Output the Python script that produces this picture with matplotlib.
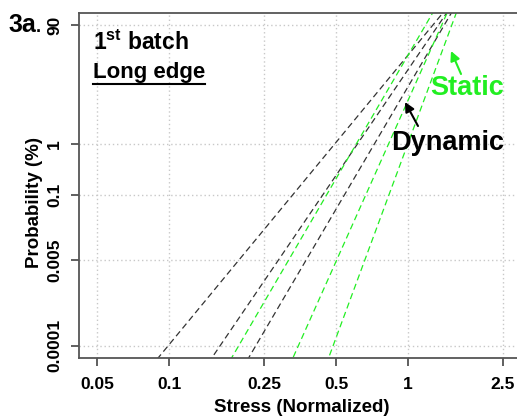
import numpy as np
import matplotlib
matplotlib.use('Agg')
import matplotlib.pyplot as plt
from matplotlib.lines import Line2D

plt.rcParams['font.family'] = ['Liberation Sans', 'DejaVu Sans']
plt.rcParams['font.weight'] = 'bold'
plt.rcParams['mathtext.fontset'] = 'custom'
plt.rcParams['mathtext.rm'] = 'Liberation Sans:bold'
plt.rcParams['mathtext.bf'] = 'Liberation Sans:bold'

# Weibull fit lines (shape, scale)
dyn_shape = [5.74, 6.96, 8.06]
dyn_scale = [1.10, 1.19, 1.28]
sta_shape = [8.13, 10.6, 12.8]
sta_scale = [1.07, 1.28, 1.43]

x_ticks = [0.05, 0.1, 0.25, 0.5, 1, 2.5]
x_labels = ['0.05', '0.1', '0.25', '0.5', '1', '2.5']
p_ticks = [0.000001, 0.00005, 0.001, 0.01, 0.9]   # fraction
p_labels = ['0.0001', '0.005', '0.1', '1', '90']

GREEN = '#22ee22'


def wb(p):
    return np.log(-np.log(1 - np.asarray(p)))


W, H = 517, 420
fig = plt.figure(figsize=(W / 100, H / 100), dpi=100)
ax = fig.add_axes([79 / W, (H - 358) / H, (525 - 79) / W, (358 - 13) / H])

xs = np.logspace(np.log10(0.03), np.log10(4), 200)
for m, eta in zip(dyn_shape, dyn_scale):
    ax.plot(xs, m * (np.log(xs) - np.log(eta)), color='#333333', lw=0.9,
            ls=(0, (5, 3)))
for m, eta in zip(sta_shape, sta_scale):
    ax.plot(xs, m * (np.log(xs) - np.log(eta)), color=GREEN, lw=0.9,
            ls=(0, (5, 3)))

ax.set_xscale('log')
ax.set_xlim(0.042, 3.09)
ax.set_ylim(-14.37, 1.382)
ax.set_xticks(x_ticks)
ax.set_xticklabels(x_labels)
ax.xaxis.set_minor_locator(matplotlib.ticker.NullLocator())
ax.set_yticks(wb(p_ticks))
ax.set_yticklabels(p_labels, rotation=90, va='center')
ax.tick_params(axis='both', labelsize=12.5, length=6, width=1.2,
               color='#444444', direction='out')
ax.tick_params(axis='y', pad=6)
ax.tick_params(axis='x', pad=8)
ax.grid(True, color='#c8c8c8', ls=(0, (1, 2)), lw=1)
for s in ax.spines.values():
    s.set_color('#555555')
    s.set_linewidth(1.3)

ax.set_xlabel('Stress (Normalized)', fontsize=13.5, fontweight='bold')
ax.xaxis.set_label_coords(0.5, -0.12)
ax.set_ylabel('Probability (%)', fontsize=13.5, fontweight='bold')
ax.yaxis.set_label_coords(-0.08, 0.45)

fig.text(8 / W, 1 - 25 / H, '3a', fontsize=18, fontweight='bold', va='center')
fig.text(36 / W, 1 - 28 / H, '.', fontsize=13, fontweight='bold', va='center')

t1 = fig.text(93 / W, 1 - 50 / H, r'1$^{\mathbf{st}}$ batch', fontsize=16.5,
              fontweight='bold', va='baseline')
t2 = fig.text(93 / W, 1 - 78 / H, 'Long edge', fontsize=16,
              fontweight='bold', va='baseline')
fig.canvas.draw()
bb = t2.get_window_extent()
fig.add_artist(Line2D([bb.x0 / W, bb.x1 / W], [(H - 84) / H, (H - 84) / H],
                      color='black', lw=1.5, transform=fig.transFigure))

ax.text(448, H - 143, 'Dynamic', transform=None, fontsize=19.5,
        fontweight='bold', ha='center', va='center')
ax.annotate('', xy=(405, H - 102), xycoords='figure pixels',
            xytext=(418, H - 126), textcoords='figure pixels',
            arrowprops=dict(arrowstyle='-|>', color='black', lw=1.5,
                            shrinkA=0, shrinkB=0, mutation_scale=14))
ax.text(467, H - 88, 'Static', transform=None, fontsize=19.5,
        fontweight='bold', ha='center', va='center', color=GREEN)
ax.annotate('', xy=(451, H - 51), xycoords='figure pixels',
            xytext=(461, H - 74), textcoords='figure pixels',
            arrowprops=dict(arrowstyle='-|>', color=GREEN, lw=1.5,
                            shrinkA=0, shrinkB=0, mutation_scale=14))

fig.savefig('out.png', dpi=100)
